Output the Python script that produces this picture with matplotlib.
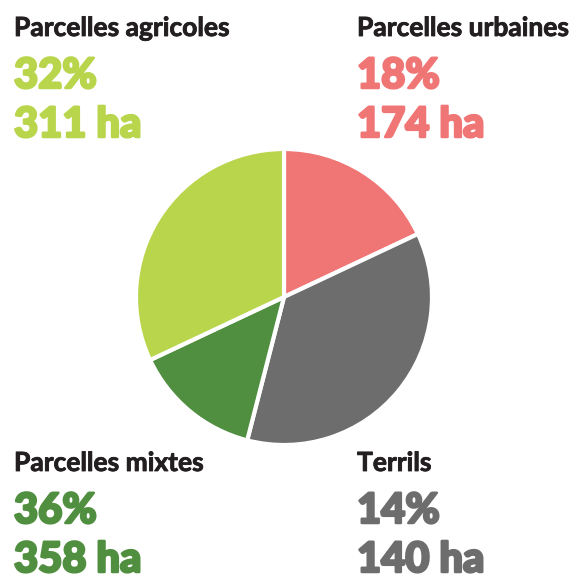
import matplotlib
matplotlib.use("Agg")
import matplotlib.pyplot as plt
import matplotlib.patheffects as pe

# slices clockwise from the top
slice_names = ["Parcelles urbaines", "Terrils", "Parcelles mixtes", "Parcelles agricoles"]
slice_values = [18, 36, 14, 32]
slice_colors = ["#F07575", "#6D6D6D", "#518F40", "#B8D54C"]

# corner labels: name, percent, area
label_names = ["Parcelles agricoles", "Parcelles urbaines", "Parcelles mixtes", "Terrils"]
label_pcts = ["32%", "18%", "36%", "14%"]
label_areas = ["311 ha", "174 ha", "358 ha", "140 ha"]
label_colors = ["#B8D54C", "#F07575", "#518F40", "#6D6D6D"]

W, H = 588, 577
fig = plt.figure(figsize=(W / 100, H / 100), dpi=100)
plt.rcParams['font.family'] = ['Lato', 'DejaVu Sans']

cx, cy, r = 284, 297, 148
ax = fig.add_axes([(cx - r) / W, (H - cy - r) / H, 2 * r / W, 2 * r / H])
ax.pie(slice_values, colors=slice_colors, startangle=90, counterclock=False,
       wedgeprops=dict(edgecolor="white", linewidth=3))
ax.set_aspect("equal")
ax.set_xlim(-1.0, 1.0)
ax.set_ylim(-1.0, 1.0)
ax.axis("off")

# x positions and baselines in pixels
xs = [14, 357, 14, 357]
bases = [36, 36, 471, 471]
for i in range(4):
    x = xs[i] / W
    b = bases[i]
    fig.text(x, 1 - b / H, label_names[i], fontsize=19, fontweight="bold",
             color="#231F20", va="baseline", ha="left",
             path_effects=[pe.withStroke(linewidth=0.6, foreground="#231F20")])
    heavy = [pe.withStroke(linewidth=1.8, foreground=label_colors[i])]
    fig.text(x, 1 - (b + 52) / H, label_pcts[i], fontsize=30, fontweight="black",
             color=label_colors[i], va="baseline", ha="left", path_effects=heavy)
    fig.text(x, 1 - (b + 101) / H, label_areas[i], fontsize=30, fontweight="black",
             color=label_colors[i], va="baseline", ha="left", path_effects=heavy)

fig.savefig("out.png", dpi=100, facecolor="white")
